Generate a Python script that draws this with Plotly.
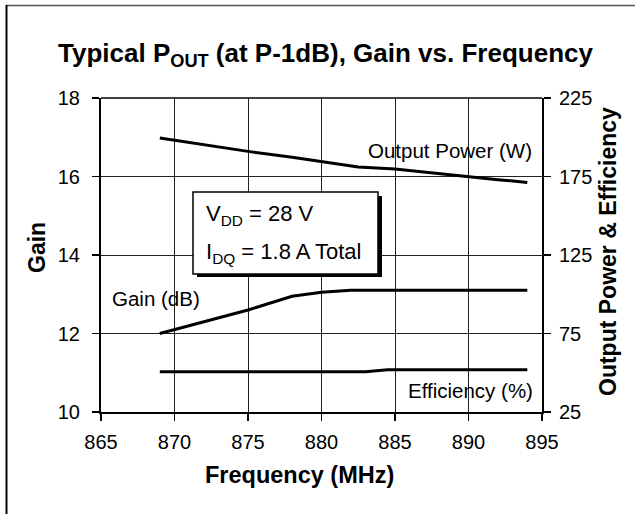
import plotly.graph_objects as go

# ---- data ----
freq_pout = [869, 872, 875, 878, 880, 882.5, 885, 888, 890, 892, 894]
pout_w = [199.5, 195.2, 191.0, 187.2, 184.6, 181.0, 179.8, 176.8, 174.7, 173.0, 171.2]

freq_gain = [869, 872, 875, 878, 880, 882, 885, 890, 894]
gain_db = [12.0, 12.3, 12.6, 12.95, 13.05, 13.1, 13.1, 13.1, 13.1]

freq_eff = [869, 875, 880, 883, 884.5, 890, 894]
eff_pct = [50.6, 50.6, 50.6, 50.6, 51.9, 51.9, 51.9]

x_ticks = [865, 870, 875, 880, 885, 890, 895]
gain_ticks = [10, 12, 14, 16, 18]
right_ticks = [25, 75, 125, 175, 225]

# ---- layout geometry (pixels) ----
W, H = 635, 514
L, R, T, B = 101, 93, 98, 102
PW = W - L - R
PH = H - T - B


def px(x):
    return (x - L) / PW


def py(y):
    return (H - B - y) / PH


FONT = "Liberation Sans, Arial, sans-serif"

fig = go.Figure()
line_style = dict(color="black", width=3)
fig.add_trace(go.Scatter(x=freq_pout, y=pout_w, mode="lines", line=line_style,
                         yaxis="y2", showlegend=False, hoverinfo="skip"))
fig.add_trace(go.Scatter(x=freq_gain, y=gain_db, mode="lines", line=line_style,
                         yaxis="y", showlegend=False, hoverinfo="skip"))
fig.add_trace(go.Scatter(x=freq_eff, y=eff_pct, mode="lines", line=line_style,
                         yaxis="y2", showlegend=False, hoverinfo="skip"))

axis_common = dict(
    showline=True, linecolor="black", linewidth=2,
    showgrid=True, gridcolor="#222222", gridwidth=1,
    ticks="outside", ticklen=7, tickwidth=1.5, tickcolor="black",
    tickfont=dict(family=FONT, size=20, color="black"),
    zeroline=False, fixedrange=True,
)

fig.update_layout(
    width=W, height=H,
    margin=dict(l=L, r=R, t=T, b=B, pad=0),
    paper_bgcolor="white", plot_bgcolor="white",
    xaxis=dict(range=[865, 895], tickvals=x_ticks, ticklabelstandoff=4, **axis_common),
    yaxis=dict(range=[10, 18], tickvals=gain_ticks, ticklabelstandoff=8, **axis_common),
    yaxis2=dict(range=[25, 225], tickvals=right_ticks, overlaying="y", side="right",
                ticklabelstandoff=4, **{**axis_common, "showgrid": False}),
    showlegend=False,
)

shapes = []
# top border of plot area
shapes.append(dict(type="line", xref="paper", yref="paper", x0=0, x1=1, y0=1, y1=1,
                   line=dict(color="black", width=1.5), layer="above"))
# outer frame (top and left)
shapes.append(dict(type="line", xref="paper", yref="paper", x0=px(6), x1=px(640), y0=py(5.5), y1=py(5.5),
                   line=dict(color="#555555", width=1.5)))
shapes.append(dict(type="line", xref="paper", yref="paper", x0=px(6.5), x1=px(6.5), y0=py(5), y1=py(520),
                   line=dict(color="black", width=2)))
# box shadow + box
shapes.append(dict(type="rect", xref="paper", yref="paper", x0=px(197), x1=px(382), y0=py(277), y1=py(196),
                   fillcolor="black", line=dict(width=0), layer="above"))
shapes.append(dict(type="rect", xref="paper", yref="paper", x0=px(193), x1=px(378), y0=py(274), y1=py(192),
                   fillcolor="white", line=dict(color="black", width=1.5), layer="above"))
fig.update_layout(shapes=shapes)

ann = []


def add_text(text, x, y, size, bold=False, xanchor="center", angle=0):
    ann.append(dict(text=("<b>%s</b>" % text) if bold else text, x=px(x), y=py(y),
                    xref="paper", yref="paper", showarrow=False, xanchor=xanchor, yanchor="middle",
                    textangle=angle, font=dict(family=FONT, size=size, color="black")))


add_text("Typical P<sub>OUT</sub> (at P-1dB), Gain vs. Frequency", 325, 54, 26, bold=True)
add_text("Frequency (MHz)", 299, 475, 23.5, bold=True)
add_text("Gain", 37, 248, 23, bold=True, angle=-90)
add_text("Output Power &amp; Efficiency", 608, 252, 23, bold=True, angle=-90)
add_text("Output Power (W)", 450, 150, 20.5)
add_text("Gain (dB)", 155.5, 298, 20.5)
add_text("Efficiency (%)", 470, 390, 20.5)
add_text("V<sub>DD</sub> = 28 V", 204, 215, 22, xanchor="left")
add_text("I<sub>DQ</sub> = 1.8 A Total", 204, 253, 22, xanchor="left")
fig.update_layout(annotations=ann)

fig.write_html("out.html",
               config={"displayModeBar": False, "staticPlot": True},
               post_script="document.body.style.margin='0';document.body.style.padding='0';")
